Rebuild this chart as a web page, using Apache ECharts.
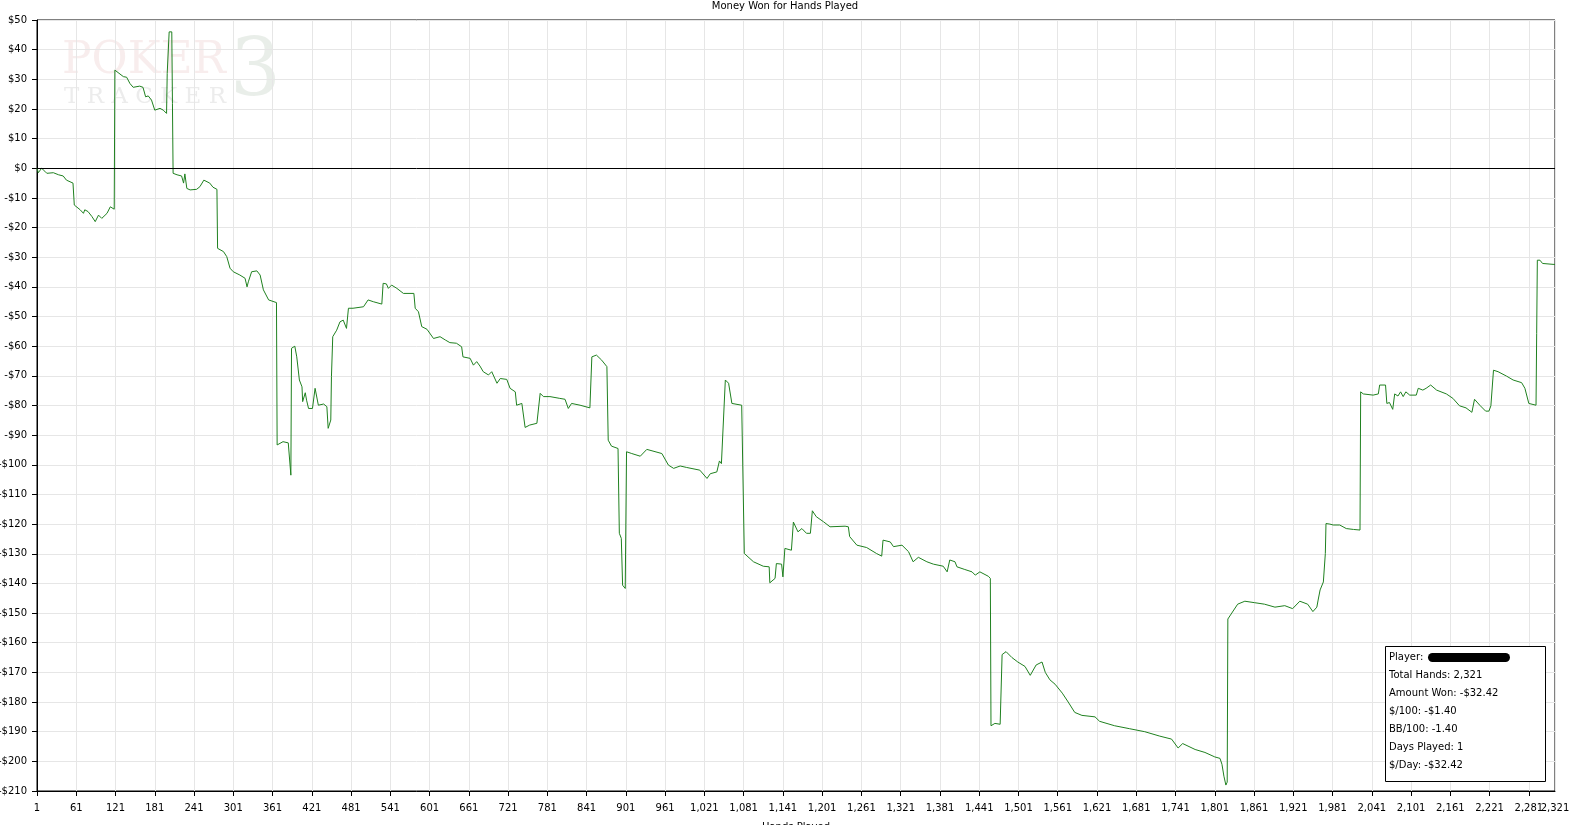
<!DOCTYPE html>
<html>
<head>
<meta charset="utf-8">
<title>Money Won for Hands Played</title>
<script src="https://cdn.jsdelivr.net/npm/echarts@6/dist/echarts.min.js"></script>
<style>
  html, body { margin: 0; padding: 0; background: #fff; }
  #money-chart { width: 1570px; height: 825px; }
</style>
</head>
<body>
<div id="money-chart"></div>
<script>
// hand number where the running total changes, and the total in dollars there
var hands = [
  1, 3, 8, 13, 16, 26, 34, 41, 46, 56, 58, 67, 72, 74, 79, 85, 90, 95, 100, 108, 113, 115, 119,
  120, 123, 133, 138, 143, 148, 158, 163, 167, 171, 176, 181, 189, 194, 199, 200, 203, 207, 208,
  209, 215, 222, 225, 227, 230, 235, 245, 250, 256, 265, 270, 276, 277, 286, 291, 296, 301, 311,
  319, 322, 324, 329, 337, 342, 347, 355, 367, 368, 377, 385, 389, 390, 395, 398, 402, 406, 407,
  411, 413, 416, 422, 426, 429, 431, 439, 444, 446, 450, 451, 453, 459, 464, 469, 474, 477, 484,
  500, 507, 515, 528, 530, 535, 538, 543, 551, 561, 577, 579, 584, 589, 597, 607, 617, 625, 632,
  642, 650, 652, 663, 668, 673, 678, 683, 691, 696, 704, 709, 719, 724, 732, 734, 742, 747, 754,
  765, 770, 775, 785, 800, 808, 813, 818, 831, 846, 849, 856, 864, 872, 874, 879, 889, 891, 894,
  896, 900, 902, 910, 923, 933, 956, 966, 974, 984, 994, 1014, 1025, 1030, 1040, 1044, 1047, 1053,
  1058, 1063, 1078, 1082, 1096, 1111, 1120, 1121, 1129, 1131, 1139, 1141, 1144, 1154, 1157, 1164,
  1170, 1177, 1183, 1186, 1192, 1203, 1213, 1236, 1241, 1243, 1254, 1269, 1284, 1292, 1294, 1305,
  1310, 1323, 1333, 1340, 1348, 1361, 1371, 1386, 1392, 1396, 1404, 1407, 1419, 1430, 1435, 1442,
  1455, 1458, 1459, 1465, 1473, 1476, 1482, 1491, 1500, 1511, 1519, 1528, 1537, 1542, 1549, 1557,
  1568, 1577, 1587, 1598, 1618, 1625, 1648, 1671, 1694, 1717, 1735, 1745, 1752, 1771, 1786, 1801,
  1809, 1812, 1815, 1818, 1820, 1821, 1827, 1836, 1847, 1862, 1877, 1893, 1908, 1920, 1931, 1943,
  1951, 1957, 1959, 1962, 1967, 1970, 1971, 1977, 1982, 1992, 2002, 2013, 2023, 2024, 2028, 2043,
  2051, 2053, 2062, 2064, 2068, 2073, 2076, 2081, 2085, 2089, 2093, 2099, 2109, 2112, 2119, 2124,
  2131, 2140, 2155, 2165, 2175, 2185, 2194, 2198, 2206, 2215, 2220, 2223, 2226, 2227, 2234, 2247,
  2257, 2270, 2275, 2281, 2292, 2293, 2294, 2298, 2302, 2318, 2321
];
var won = [
  0, -1.5, 0, -1, -1.7, -1.5, -2.2, -2.6, -4, -5, -12.4, -14, -15.2, -14, -14.6, -16.3, -18, -15.8, -16.9, -15.2, -13, -13.5, -13.8,
  33.1, 32.6, 30.9, 30.7, 28.6, 27.3, 27.7, 27.3, 24.1, 24.4, 23, 19.6, 20.2, 19.6, 18.5, 32, 46, 46, 21.9,
  -1.7, -2.2, -2.6, -5, -1.9, -6.8, -7.3, -7.1, -6.2, -4, -5, -6.4, -7.1, -27, -28.1, -29.8, -33.7, -34.9, -36,
  -37.1, -40, -38.3, -34.9, -34.6, -36, -41, -44.4, -45.3, -93.3, -92.2, -92.6, -103.5, -60.7, -60, -63.6, -71.4, -73.7, -78.7,
  -75.7, -78.2, -81, -81, -74.2, -74.2, -79.9, -79.5, -80.4, -87.7, -84.9, -70.3, -56.8, -54.6, -51.8, -51.2, -54, -47.2, -47.2,
  -46.7, -44.4, -45, -45.8, -38.8, -39, -40.5, -39.4, -40.5, -42.2, -42.2, -47.2, -48.4, -53.4, -54.3, -57.4, -56.8, -57.9, -58.8,
  -59, -60.2, -63.6, -64.1, -66.4, -65.2, -66.7, -68.6, -69.7, -68.6, -72.5, -70.9, -71.2, -74.2, -75.4, -79.9, -79.3, -87.4, -86.6,
  -86, -75.9, -77, -77, -77.6, -77.9, -81, -79.3, -79.9, -80.8, -63.6, -63, -64.7, -66.9, -91.7, -93.7, -94.5, -123.1, -124.8,
  -140.6, -141.7, -95.6, -96.2, -97.1, -94.8, -96.2, -100.1, -101.2, -100.4, -100.9, -101.8, -104.6, -103, -102.4, -98.7, -99.6, -71.4,
  -72.5, -79.3, -79.9, -129.9, -132.7, -134.2, -134.4, -139.8, -138.3, -133.3, -133.5, -137.8, -128.2, -128.8, -119.3, -122.6,
  -121.5, -123.1, -123.1, -115.5, -117.5, -119.2, -120.9, -120.7, -120.9, -124.2, -127.1, -127.9, -129.9, -130.8, -125.4, -126,
  -127.6, -127.1, -129.3, -132.7, -131.2, -132.7, -133.5, -134.2, -136.1, -132.1, -132.7, -134.4, -135.3, -136.1, -137.2, -136.1,
  -137.6, -138.3, -188, -187.2, -187.5, -164, -163, -165, -166.5, -168, -171, -167.5, -166.5, -170, -172.5, -174,
  -177, -180, -183.5, -184.5, -185, -186.5, -188, -189, -190, -191.5, -192.5, -195.5, -194, -196, -197, -198.5,
  -199, -201, -205, -208, -207, -152, -150, -147, -146, -146.5, -147, -148, -147.5, -148.5, -146, -147,
  -149.5, -148, -145.6, -142.2, -139.5, -129.9, -119.8, -120, -120.3, -120.3, -121.5, -121.8, -122, -75.4, -76.1, -76.5,
  -76.1, -73.1, -73.1, -79.3, -79, -81.3, -76.1, -76.8, -75.4, -77, -75.4, -76.5, -76.5, -74.2, -74.8, -74.2,
  -73.1, -74.8, -76.1, -77.6, -80.1, -80.8, -82.3, -77.9, -79.9, -81.9, -81.9, -80.1, -80.2, -68.1, -68.6, -70.1,
  -71.4, -72.3, -74.2, -79.3, -79.9, -55.7, -31, -31, -32.1, -32.4, -32.42
];
var statLines = [
  'Player:',
  'Total Hands: 2,321',
  'Amount Won: -$32.42',
  '$/100: -$1.40',
  'BB/100: -1.40',
  'Days Played: 1',
  '$/Day: -$32.42'
];

var font = 'DejaVu Sans';
var lastHand = 2321;
var chart = echarts.init(document.getElementById('money-chart'));

// x axis runs from hand-1 so the 60-hand ticks land on 1, 61, 121 ...
var points = hands.map(function (h, i) { return [h - 1, won[i]]; });

function handLabel(v) {
  return (v + 1).toLocaleString('en-US');
}

var statText = statLines.map(function (line, i) {
  return {
    type: 'text',
    left: 1389,
    top: 652 + i * 18,
    z: 11,
    style: { text: line, fill: '#000', font: '10px "' + font + '"' }
  };
});

var labelStyle = { fontFamily: font, fontSize: 10, color: '#000', margin: 12 };

chart.setOption({
  animation: false,
  title: {
    text: 'Money Won for Hands Played',
    left: 'center',
    top: -4,
    textStyle: { fontFamily: font, fontSize: 10, fontWeight: 'normal', color: '#000' }
  },
  grid: {
    left: 37,
    right: 15,
    top: 20,
    bottom: 34,
    show: true,
    borderColor: '#000',
    borderWidth: 1,
    outerBoundsMode: 'none'
  },
  xAxis: [
    {
      type: 'value',
      position: 'bottom',
      min: 0,
      max: lastHand - 1,
      interval: 60,
      name: 'Hands Played',
      nameLocation: 'middle',
      nameGap: 31,
      nameTextStyle: { fontFamily: font, fontSize: 10, color: '#000' },
      axisLine: { onZero: false, lineStyle: { color: '#000' } },
      axisTick: { length: 5, lineStyle: { color: '#000' } },
      axisLabel: Object.assign({}, labelStyle, {
        showMinLabel: true,
        showMaxLabel: false,
        formatter: function (v) { return v === lastHand - 1 ? '' : handLabel(v); }
      }),
      splitLine: { show: true, lineStyle: { color: '#e6e6e6' } }
    },
    {
      // only carries the last label, which touches the 2,281 one
      type: 'value',
      position: 'bottom',
      offset: 0,
      min: 0,
      max: lastHand - 1,
      interval: 60,
      axisLine: { show: false, onZero: false },
      axisTick: { show: false },
      splitLine: { show: false },
      axisLabel: Object.assign({}, labelStyle, {
        showMinLabel: false,
        showMaxLabel: true,
        formatter: function (v) { return v === lastHand - 1 ? handLabel(v) : ''; }
      })
    }
  ],
  yAxis: {
    type: 'value',
    min: -210,
    max: 50,
    interval: 10,
    axisLine: { show: true, lineStyle: { color: '#000' } },
    axisTick: { show: true, length: 5, lineStyle: { color: '#000' } },
    axisLabel: {
      fontFamily: font,
      fontSize: 10,
      color: '#000',
      margin: 10,
      formatter: function (v) { return v < 0 ? '-$' + (-v) : '$' + v; }
    },
    splitLine: { show: true, lineStyle: { color: '#e6e6e6' } }
  },
  graphic: [
    {
      type: 'text', left: 62, top: 40,
      style: { text: 'POKER', fill: 'rgba(210,140,140,0.16)', font: '44px "DejaVu Serif"' }
    },
    {
      type: 'text', left: 64, top: 86,
      style: { text: 'T R A C K E R', fill: 'rgba(120,120,120,0.14)', font: '23px "DejaVu Serif"' }
    },
    {
      type: 'text', left: 230, top: 34,
      style: { text: '3', fill: 'rgba(110,140,110,0.15)', font: '80px "DejaVu Serif"' }
    },
    {
      type: 'rect',
      shape: { x: 1385.5, y: 646.5, width: 160, height: 135 },
      style: { fill: '#fff', stroke: '#000', lineWidth: 1 },
      z: 10
    },
    {
      type: 'rect',
      shape: { x: 1428, y: 653, width: 82, height: 9, r: 4.5 },
      style: { fill: '#000' },
      z: 11
    }
  ].concat(statText),
  series: [
    {
      name: 'Money Won',
      type: 'line',
      data: points,
      showSymbol: false,
      lineStyle: { color: '#1f801f', width: 1 },
      markLine: {
        silent: true,
        symbol: 'none',
        label: { show: false },
        lineStyle: { color: '#000', width: 1, type: 'solid' },
        data: [{ yAxis: 0 }]
      }
    }
  ]
});
</script>
</body>
</html>
